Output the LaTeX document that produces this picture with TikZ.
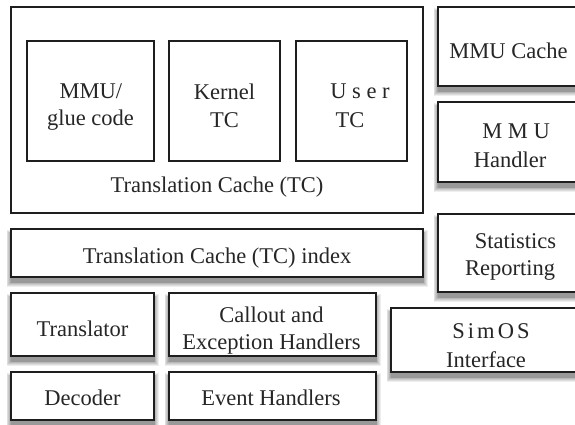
\documentclass[tikz,border=0pt]{standalone}
\usepackage{fontspec}
\setmainfont{Liberation Serif}
\definecolor{ink}{HTML}{262626}
\definecolor{edge}{HTML}{1E1E1E}
\definecolor{shA}{HTML}{EEEEEE}
\definecolor{shB}{HTML}{DDDDDD}
\definecolor{shC}{HTML}{CBCBCB}
\definecolor{shD}{HTML}{B9B9B9}
\definecolor{shE}{HTML}{A8A8A8}
\definecolor{shF}{HTML}{999999}
\tikzset{
  box/.style={draw=edge, line width=1.3pt, fill=white, rectangle, inner sep=0pt},
  lbl/.style={text=ink, inner sep=0pt, font=\fontsize{22.5}{27}\selectfont}
}
% soft shadow below a box given by its corners (x1,y1) and (x2,y2), y downward
\newcommand{\shadowrect}[4]{%
  \fill[shA] (#1-4.5,#2+1.0) rectangle (#3+4.5,#4+9.5);
  \fill[shB] (#1-3.7,#2+1.8) rectangle (#3+3.7,#4+8.7);
  \fill[shC] (#1-2.9,#2+2.6) rectangle (#3+2.9,#4+7.9);
  \fill[shD] (#1-2.1,#2+3.4) rectangle (#3+2.1,#4+7.1);
  \fill[shE] (#1-1.3,#2+4.2) rectangle (#3+1.3,#4+6.3);
  \fill[shF] (#1-0.5,#2+5.0) rectangle (#3+0.5,#4+5.5);
}
\begin{document}
\begin{tikzpicture}[x=1pt, y=-1pt]
  \useasboundingbox (0,0) rectangle (575,424);
  \fill[white] (0,0) rectangle (575,424);
  \begin{scope}
  \clip (0,0) rectangle (575,424);

  % shadows of the free-standing blocks
  \shadowrect{438}{7}{578}{86}
  \shadowrect{438}{102}{578}{182}
  \shadowrect{438}{214}{578}{292}
  \shadowrect{391}{308}{578}{372}
  \shadowrect{11}{229}{423}{277}
  \shadowrect{11}{293}{154}{356}
  \shadowrect{169}{293}{376}{356}
  \shadowrect{11}{372}{154}{420}
  \shadowrect{169}{372}{376}{420}

  % translation cache with its three parts
  \node[box, minimum width=412pt, minimum height=206pt] (tc) at (217,110) {};
  \node[lbl, anchor=base] (tclabel) at (217,192) {Translation Cache (TC)};
  \node[box, minimum width=127pt, minimum height=120pt] (glue) at (90.5,101) {};
  \node[lbl, anchor=base] (glueA) at (91,98) {MMU/};
  \node[lbl, anchor=base] (glueB) at (90.5,125) {glue code};
  \node[box, minimum width=111pt, minimum height=120pt] (kernel) at (224.5,101) {};
  \node[lbl, anchor=base] (kernelA) at (224.5,99) {Kernel};
  \node[lbl, anchor=base] (kernelB) at (224.5,127) {TC};
  \node[box, minimum width=111pt, minimum height=120pt] (user) at (351.5,101) {};
  \node[lbl, anchor=base] (userA) at (360,98) {U s e r};
  \node[lbl, anchor=base] (userB) at (350,127) {TC};

  % right column
  \node[box, minimum width=140pt, minimum height=79pt] (mmucache) at (508,46.5) {};
  \node[lbl, anchor=base] (mmucacheT) at (508.5,58) {MMU Cache};
  \node[box, minimum width=140pt, minimum height=80pt] (mmuhandler) at (508,142) {};
  \node[lbl, anchor=base] (mmuhA) at (516,138) {M M U};
  \node[lbl, anchor=base] (mmuhB) at (510,167) {Handler};
  \node[box, minimum width=140pt, minimum height=78pt] (stats) at (508,253) {};
  \node[lbl, anchor=base] (statsA) at (515.5,248) {Statistics};
  \node[lbl, anchor=base] (statsB) at (510,275) {Reporting};
  \node[box, minimum width=187pt, minimum height=64pt] (simos) at (484.5,340) {};
  \node[lbl, anchor=base] (simosA) at (491,338)
    {S\hspace{3pt}i\hspace{3pt}m\hspace{3pt}O\hspace{3pt}S};
  \node[lbl, anchor=base] (simosB) at (486,367) {Interface};

  % lower blocks
  \node[box, minimum width=412pt, minimum height=48pt] (index) at (217,253) {};
  \node[lbl, anchor=base] (indexT) at (217,263) {Translation Cache (TC) index};
  \node[box, minimum width=143pt, minimum height=63pt] (translator) at (82.5,324.5) {};
  \node[lbl, anchor=base] (translatorT) at (82.5,336) {Translator};
  \node[box, minimum width=207pt, minimum height=63pt] (callout) at (272.5,324.5) {};
  \node[lbl, anchor=base] (calloutA) at (271.5,322) {Callout and};
  \node[lbl, anchor=base] (calloutB) at (271.5,349) {Exception Handlers};
  \node[box, minimum width=143pt, minimum height=48pt] (decoder) at (82.5,396) {};
  \node[lbl, anchor=base] (decoderT) at (82.5,405) {Decoder};
  \node[box, minimum width=207pt, minimum height=48pt] (events) at (272.5,396) {};
  \node[lbl, anchor=base] (eventsT) at (271,405) {Event Handlers};
  \end{scope}
\end{tikzpicture}
\end{document}
